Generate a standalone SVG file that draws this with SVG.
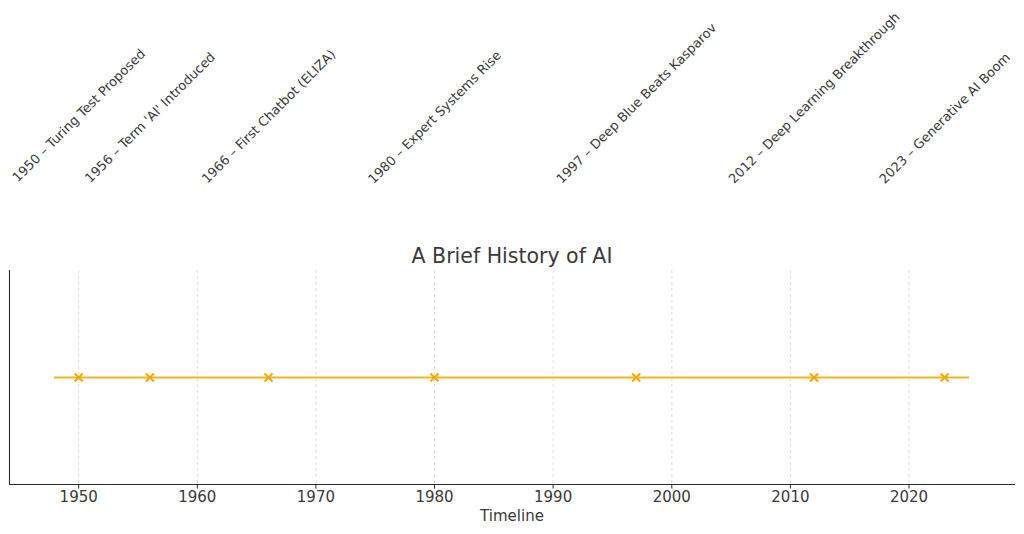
<svg xmlns="http://www.w3.org/2000/svg" width="1024" height="534" viewBox="0 0 1024 534">
<style>
text{font-family:"DejaVu Sans","Liberation Sans",sans-serif;fill:#3a3a3a}
.lbl{font-size:13px}
.tick{font-size:15px}
.grid{stroke:#d4d4d4;stroke-width:0.8;stroke-dasharray:3,3}
.spine{stroke:#2b2b2b;stroke-width:1.1;fill:none}
.tm{stroke:#2b2b2b;stroke-width:1}
.mk{stroke:#f2a900;stroke-width:2;fill:none}
</style>
<rect width="1024" height="534" fill="#ffffff"/>
<g id="grid">
<line class="grid" x1="78.7" y1="270" x2="78.7" y2="484"/>
<line class="grid" x1="197.3" y1="270" x2="197.3" y2="484"/>
<line class="grid" x1="315.9" y1="270" x2="315.9" y2="484"/>
<line class="grid" x1="434.5" y1="270" x2="434.5" y2="484"/>
<line class="grid" x1="553.1" y1="270" x2="553.1" y2="484"/>
<line class="grid" x1="671.8" y1="270" x2="671.8" y2="484"/>
<line class="grid" x1="790.4" y1="270" x2="790.4" y2="484"/>
<line class="grid" x1="909" y1="270" x2="909" y2="484"/>
</g>
<g id="axes">
<path class="spine" d="M9.5 270 V484.5 H1015"/>
<line class="tm" x1="78.7" y1="484.5" x2="78.7" y2="488.5"/>
<line class="tm" x1="197.3" y1="484.5" x2="197.3" y2="488.5"/>
<line class="tm" x1="315.9" y1="484.5" x2="315.9" y2="488.5"/>
<line class="tm" x1="434.5" y1="484.5" x2="434.5" y2="488.5"/>
<line class="tm" x1="553.1" y1="484.5" x2="553.1" y2="488.5"/>
<line class="tm" x1="671.8" y1="484.5" x2="671.8" y2="488.5"/>
<line class="tm" x1="790.4" y1="484.5" x2="790.4" y2="488.5"/>
<line class="tm" x1="909" y1="484.5" x2="909" y2="488.5"/>
<g text-anchor="middle">
<text class="tick" x="78.7" y="502">1950</text>
<text class="tick" x="197.3" y="502">1960</text>
<text class="tick" x="315.9" y="502">1970</text>
<text class="tick" x="434.5" y="502">1980</text>
<text class="tick" x="553.1" y="502">1990</text>
<text class="tick" x="671.8" y="502">2000</text>
<text class="tick" x="790.4" y="502">2010</text>
<text class="tick" x="909" y="502">2020</text>
</g>
<text class="tick" x="512" y="521" text-anchor="middle">Timeline</text>
<text x="512" y="263" text-anchor="middle" font-size="20.5">A Brief History of AI</text>
</g>
<g id="connectors">
<line x1="54" y1="377.5" x2="969" y2="377.5" stroke="#f5b41a" stroke-width="2"/>
</g>
<g id="n1950">
<path class="mk" d="M74.7 373.5 l8 8 m0 -8 l-8 8"/>
<text class="lbl" text-anchor="middle" dy="0.35em" transform="translate(78.7 115.5) rotate(-45)">1950 – Turing Test Proposed</text>
</g>
<g id="n1956">
<path class="mk" d="M145.9 373.5 l8 8 m0 -8 l-8 8"/>
<text class="lbl" text-anchor="middle" dy="0.35em" transform="translate(149.9 117.4) rotate(-45)">1956 – Term 'AI' Introduced</text>
</g>
<g id="n1966">
<path class="mk" d="M264.5 373.5 l8 8 m0 -8 l-8 8"/>
<text class="lbl" text-anchor="middle" dy="0.35em" transform="translate(268.5 116.4) rotate(-45)">1966 – First Chatbot (ELIZA)</text>
</g>
<g id="n1980">
<path class="mk" d="M430.5 373.5 l8 8 m0 -8 l-8 8"/>
<text class="lbl" text-anchor="middle" dy="0.35em" transform="translate(434.5 117.1) rotate(-45)">1980 – Expert Systems Rise</text>
</g>
<g id="n1997">
<path class="mk" d="M632.2 373.5 l8 8 m0 -8 l-8 8"/>
<text class="lbl" text-anchor="middle" dy="0.35em" transform="translate(636.2 103.2) rotate(-45)">1997 – Deep Blue Beats Kasparov</text>
</g>
<g id="n2012">
<path class="mk" d="M810.1 373.5 l8 8 m0 -8 l-8 8"/>
<text class="lbl" text-anchor="middle" dy="0.35em" transform="translate(814.1 97.8) rotate(-45)">2012 – Deep Learning Breakthrough</text>
</g>
<g id="n2023">
<path class="mk" d="M940.6 373.5 l8 8 m0 -8 l-8 8"/>
<text class="lbl" text-anchor="middle" dy="0.35em" transform="translate(944.6 118.1) rotate(-45)">2023 – Generative AI Boom</text>
</g>
</svg>
